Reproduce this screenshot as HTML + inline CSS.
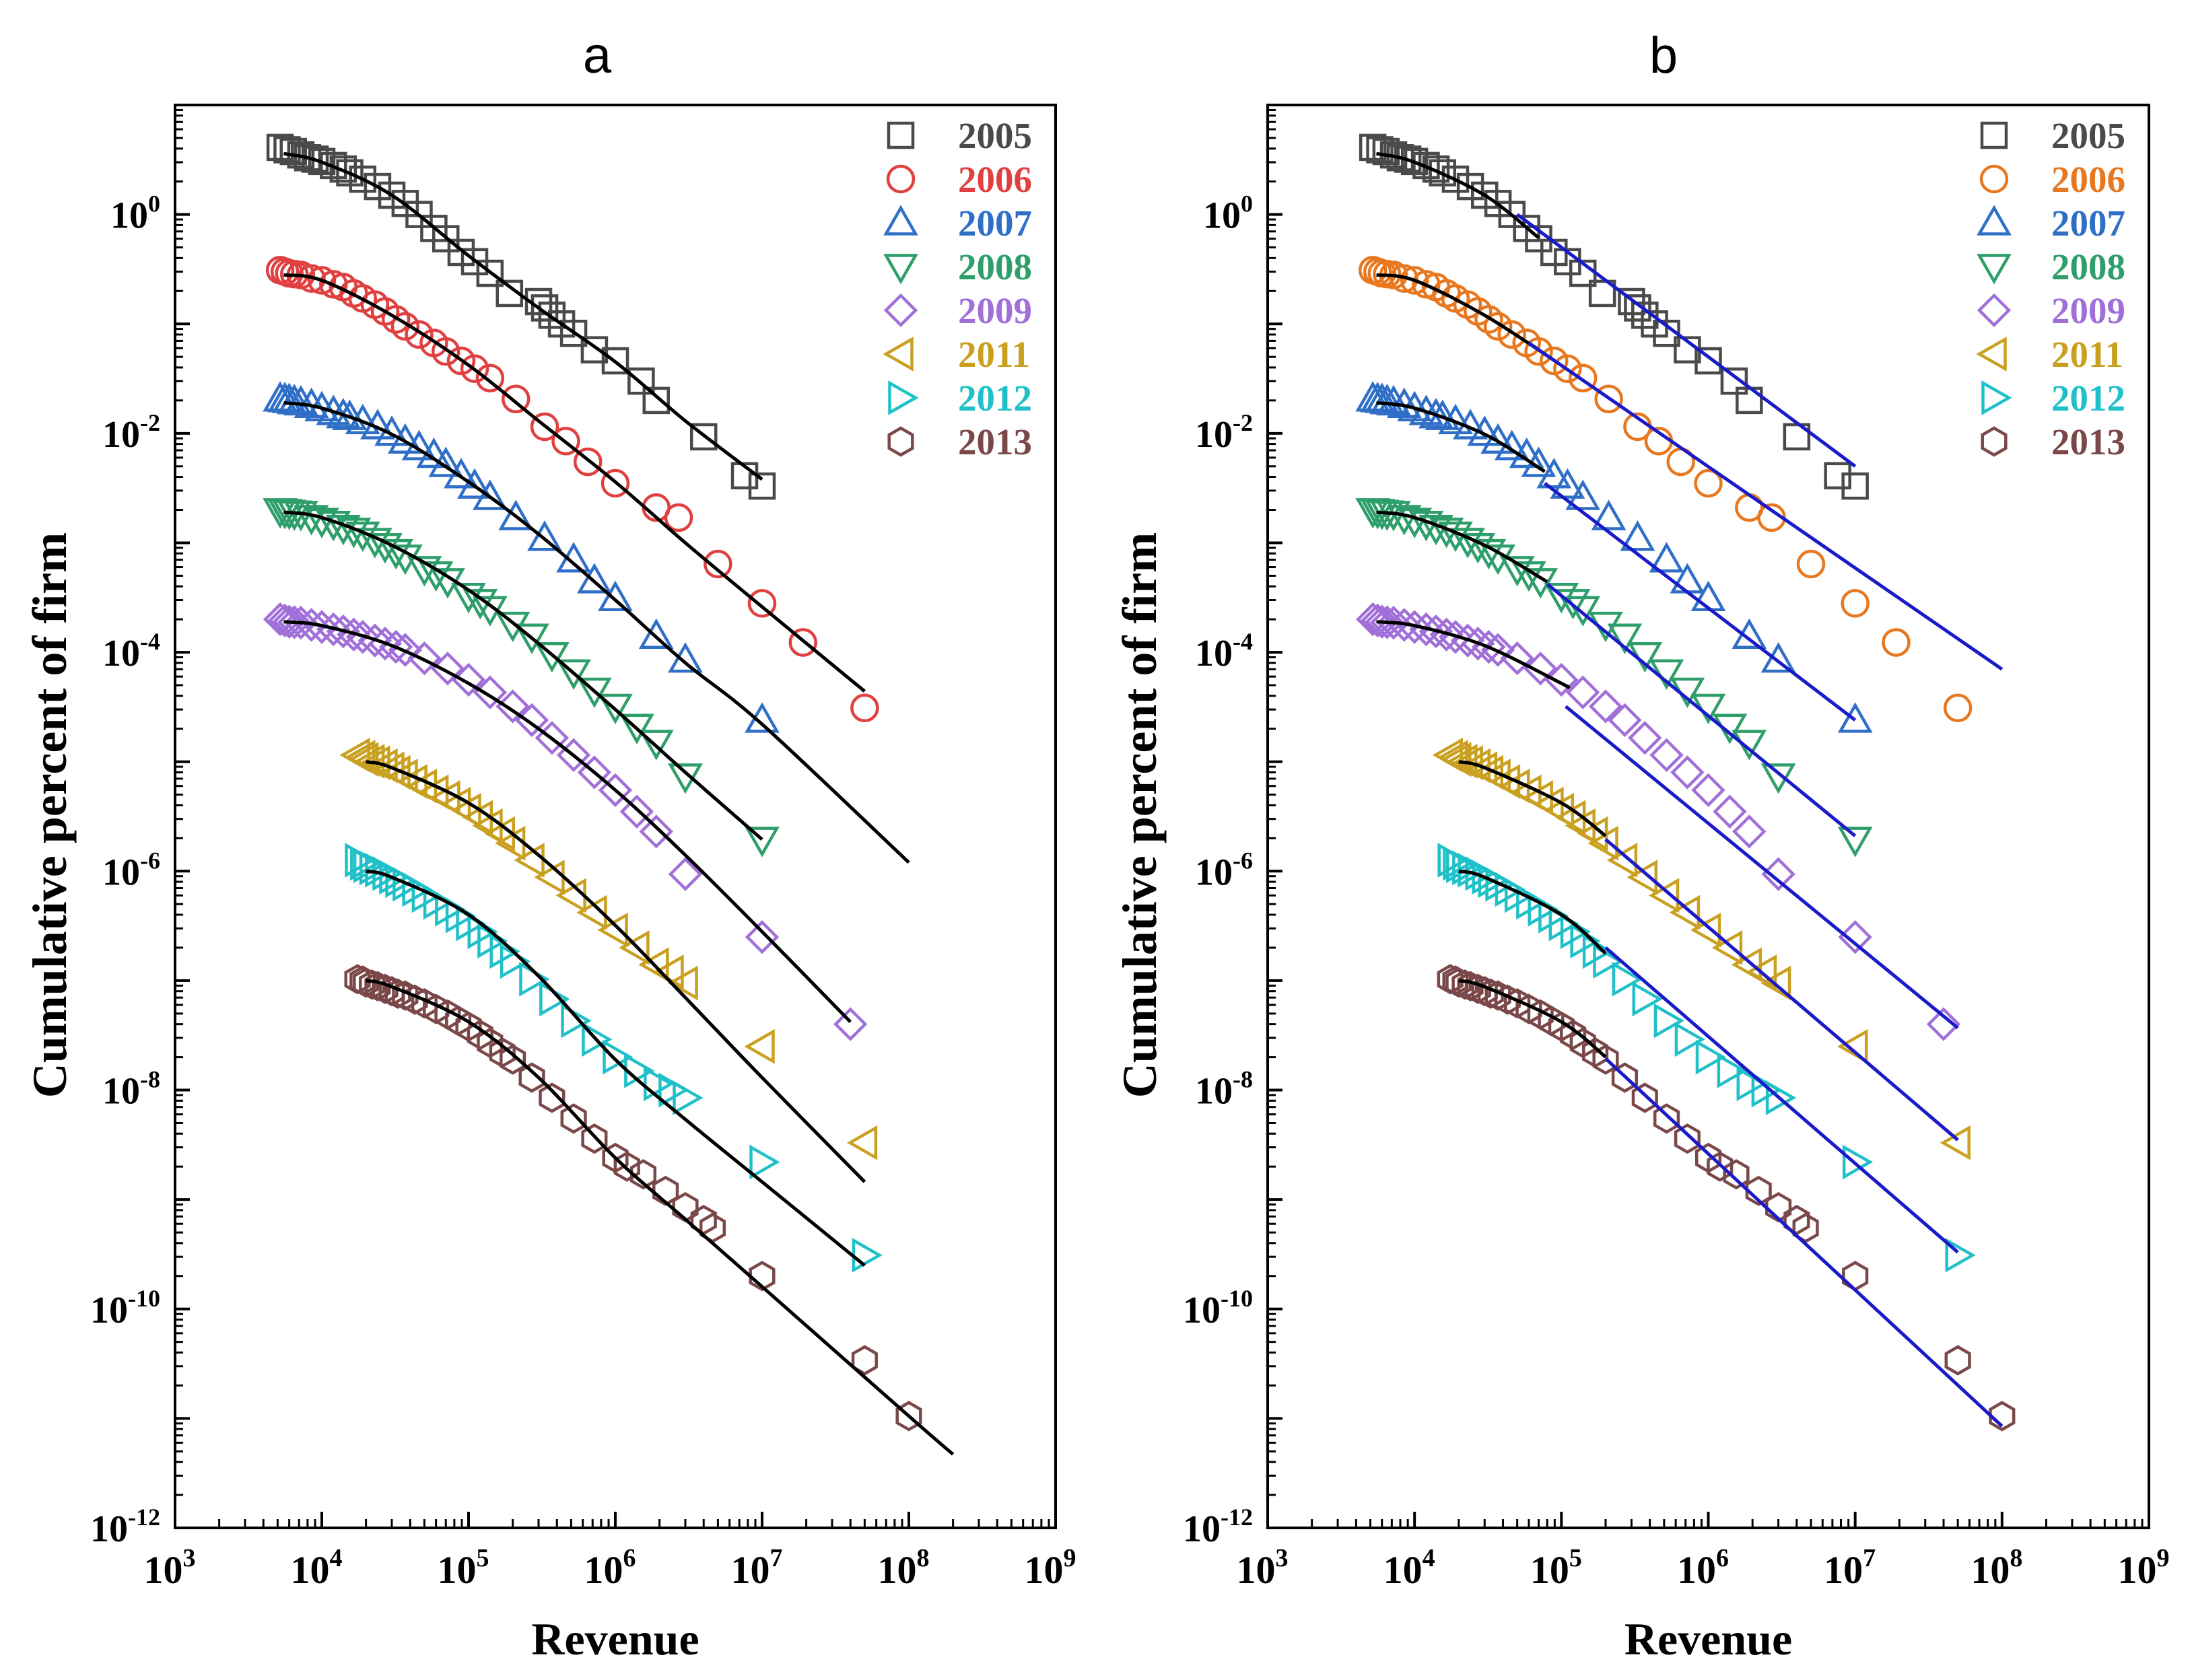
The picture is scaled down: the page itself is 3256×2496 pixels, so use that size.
<!DOCTYPE html>
<html><head><meta charset="utf-8">
<style>
html,body{margin:0;padding:0;background:#fff;}
svg{display:block;}
text{font-family:"Liberation Serif",serif;font-weight:bold;}
</style></head>
<body>
<svg id="chart" width="3256" height="2496" viewBox="0 0 3256 2496" xmlns="http://www.w3.org/2000/svg">
<rect width="3256" height="2496" fill="#fff"/>
</svg>
<script>
const years = ["2005","2006","2007","2008","2009","2011","2012","2013"];
const shapes = ["square","circle","up","down","diamond","left","right","hex"];
const colorsA = ["#4a4a4a","#e0403f","#2f6fc8","#2e9e6a","#a070d8","#c9a020","#20c0c8","#7a4848"];
const colorsB = ["#4a4a4a","#e87820","#2f6fc8","#2e9e6a","#a070d8","#c9a020","#20c0c8","#7a4848"];

const x2005 = [5.2e3,5.8e3,6.4e3,7.2e3,8e3,9e3,1e4,1.2e4,1.4e4,1.55e4,1.9e4,2.4e4,3e4,3.7e4,4.6e4,5.8e4,7e4,8.9e4,1.1e5,1.4e5,1.9e5,3e5,3.3e5,3.7e5,4.3e5,5.2e5,7.2e5,1e6,1.5e6,1.9e6,4e6,7.6e6,1e7];
const y2005 = [4.1,3.9,3.76,3.5,3.3,3.2,3.05,2.8,2.6,2.4,2.1,1.8,1.5,1.26,1.0,0.745,0.6,0.45,0.37,0.29,0.19,0.16,0.14,0.12,0.1,0.082,0.058,0.046,0.030,0.020,0.0093,0.0041,0.0033];
const x2006 = [5.2e3,5.6e3,6e3,6.5e3,7.2e3,8.5e3,1e4,1.2e4,1.4e4,1.65e4,1.9e4,2.3e4,2.7e4,3.2e4,3.7e4,4.6e4,5.8e4,7e4,8.9e4,1.1e5,1.4e5,2.1e5,3.3e5,4.6e5,6.5e5,1e6,1.9e6,2.7e6,5e6,1e7,1.9e7,5e7];
const y2006 = [0.31,0.30,0.29,0.285,0.28,0.26,0.25,0.23,0.217,0.19,0.171,0.15,0.13,0.11,0.095,0.08,0.067,0.056,0.046,0.039,0.032,0.0206,0.0115,0.0085,0.0055,0.0035,0.0021,0.0017,6.4e-4,2.8e-4,1.23e-4,3.1e-5];
const x2007 = [5.2e3,5.6e3,6e3,6.5e3,7.2e3,8.5e3,1e4,1.2e4,1.4e4,1.55e4,1.9e4,2.4e4,3e4,3.7e4,4.6e4,5.8e4,7e4,8.9e4,1.1e5,1.4e5,2.1e5,3.3e5,5.2e5,7.2e5,1e6,1.9e6,3e6,1e7];
const y2007 = [0.0206,0.0203,0.02,0.0195,0.019,0.018,0.0168,0.0155,0.0145,0.014,0.0128,0.0115,0.01,0.0085,0.0074,0.0063,0.0052,0.0041,0.0033,0.0026,0.0017,0.0011,7e-4,4.5e-4,3.1e-4,1.4e-4,8.5e-5,2.4e-5];
const x2008 = [5.2e3,5.6e3,6e3,6.5e3,7.2e3,8.5e3,1e4,1.2e4,1.4e4,1.65e4,1.9e4,2.3e4,2.7e4,3.2e4,3.7e4,5e4,6e4,7.2e4,1e5,1.2e5,1.4e5,2e5,2.7e5,3.7e5,5.2e5,7.2e5,1e6,1.4e6,1.9e6,3e6,1e7];
const y2008 = [1.96e-3,1.93e-3,1.9e-3,1.87e-3,1.85e-3,1.7e-3,1.6e-3,1.5e-3,1.38e-3,1.3e-3,1.2e-3,1.05e-3,9.4e-4,8.3e-4,7.4e-4,5.8e-4,5.2e-4,4.5e-4,3.3e-4,2.9e-4,2.5e-4,1.8e-4,1.4e-4,9.5e-5,6.6e-5,4.5e-5,3.2e-5,2.1e-5,1.5e-5,7.4e-6,1.95e-6];
const x2009 = [5.2e3,5.6e3,6e3,6.5e3,7.2e3,8.5e3,1e4,1.2e4,1.4e4,1.65e4,1.9e4,2.3e4,2.7e4,3.2e4,3.7e4,5e4,7.2e4,1e5,1.4e5,2e5,2.7e5,3.7e5,5.2e5,7.2e5,1e6,1.4e6,1.9e6,3e6,1e7,4e7];
const y2009 = [2e-4,1.95e-4,1.9e-4,1.88e-4,1.86e-4,1.78e-4,1.7e-4,1.62e-4,1.55e-4,1.45e-4,1.38e-4,1.28e-4,1.2e-4,1.12e-4,1.05e-4,8.8e-5,7.1e-5,5.6e-5,4.3e-5,3.2e-5,2.4e-5,1.65e-5,1.15e-5,8e-6,5.5e-6,3.5e-6,2.3e-6,9.4e-7,2.5e-7,4e-8];
const x2011 = [1.75e4,1.9e4,2e4,2.2e4,2.4e4,2.7e4,3e4,3.3e4,3.7e4,4.3e4,5e4,6e4,7.2e4,8.5e4,1e5,1.2e5,1.4e5,1.7e5,2e5,2.7e5,3.7e5,5.2e5,7.2e5,1e6,1.4e6,1.9e6,2.4e6,3e6,1e7,5e7];
const y2011 = [1.15e-5,1.1e-5,1.05e-5,1.01e-5,9.8e-6,9.2e-6,8.6e-6,8e-6,7.4e-6,6.6e-6,6e-6,5.3e-6,4.7e-6,4.1e-6,3.6e-6,3.1e-6,2.6e-6,2.2e-6,1.8e-6,1.26e-6,8.8e-7,6e-7,4.2e-7,2.9e-7,2e-7,1.4e-7,1.2e-7,9.5e-8,2.5e-8,3.3e-9];
const x2012 = [1.75e4,1.9e4,2e4,2.2e4,2.4e4,2.7e4,3e4,3.3e4,3.7e4,4.3e4,5e4,6e4,7.2e4,8.5e4,1e5,1.2e5,1.4e5,1.7e5,2e5,2.7e5,3.7e5,5.2e5,7.2e5,1e6,1.4e6,1.9e6,2.4e6,3e6,1e7,5e7];
const y2012 = [1.26e-6,1.18e-6,1.12e-6,1.07e-6,1.02e-6,9.5e-7,8.8e-7,8.2e-7,7.6e-7,6.8e-7,6e-7,5.2e-7,4.5e-7,3.9e-7,3.3e-7,2.8e-7,2.3e-7,1.85e-7,1.5e-7,1.03e-7,6.8e-8,4.3e-8,2.9e-8,2e-8,1.5e-8,1.14e-8,1e-8,8.5e-9,2.2e-9,3.1e-10];
const x2013 = [1.75e4,1.9e4,2e4,2.2e4,2.4e4,2.7e4,3e4,3.3e4,3.7e4,4.3e4,5e4,6e4,7.2e4,8.5e4,1e5,1.2e5,1.4e5,1.7e5,2e5,2.7e5,3.7e5,5.2e5,7.2e5,1e6,1.2e6,1.55e6,2.2e6,3e6,4e6,4.6e6,1e7,5e7,1e8];
const y2013 = [1.03e-7,1e-7,9.6e-8,9.2e-8,8.9e-8,8.4e-8,8e-8,7.6e-8,7.3e-8,6.7e-8,6.2e-8,5.5e-8,4.9e-8,4.3e-8,3.8e-8,3.2e-8,2.7e-8,2.2e-8,1.9e-8,1.3e-8,8.5e-9,5.5e-9,3.6e-9,2.4e-9,2e-9,1.7e-9,1.2e-9,8.5e-10,6.5e-10,5.5e-10,2e-10,3.4e-11,1.05e-11];

const fx2005=[5.5e3,1e4,3e4,1e5,3e5,1e6,3e6,1e7], fy2005=[3.6,3.0,1.5,0.42,0.14,0.045,0.013,3.8e-3];
const fx2006=[5.5e3,1e4,3e4,1e5,3e5,1e6,3e6,1e7,5e7], fy2006=[0.28,0.25,0.12,0.042,0.013,3.6e-3,1e-3,2.6e-4,4.4e-5];
const fx2007=[5.5e3,1e4,3e4,1e5,3e5,1e6,3e6,1e7,1e8], fy2007=[0.019,0.017,0.0098,0.0036,1.2e-3,3e-4,8e-5,2.2e-5,1.2e-6];
const fx2008=[5.5e3,1e4,3e4,1e5,3e5,1e6,3e6,1e7], fy2008=[1.9e-3,1.7e-3,9.5e-4,3.7e-4,1.2e-4,3e-5,8e-6,1.95e-6];
const fx2009=[5.5e3,1e4,3e4,1e5,3e5,1e6,3e6,1e7,4e7], fy2009=[1.9e-4,1.75e-4,1.15e-4,5.2e-5,2e-5,5.5e-6,1.4e-6,2.8e-7,4.2e-8];
const fx2011=[2e4,3e4,1e5,3e5,1e6,3e6,1e7,5e7], fy2011=[1e-5,8.8e-6,4.2e-6,1.4e-6,3.2e-7,7e-8,1.3e-8,1.45e-9];
const fx2012=[2e4,3e4,1e5,3e5,1e6,3e6,1e7,5e7], fy2012=[1e-6,8.8e-7,4e-7,1.1e-7,1.9e-8,5.4e-9,1.45e-9,2.5e-10];
const fx2013=[2e4,3e4,1e5,3e5,1e6,3e6,1e7,1e8,2e8], fy2013=[1e-7,8.8e-8,4.2e-8,1.3e-8,2.4e-9,6.6e-10,1.6e-10,1.05e-11,4.7e-12];

const headEnd = [7e4,9e4,7.7e4,8e4,1.07e5,2e5,2e5,2e5];
const blueX0 = [5e4,6e4,7.7e4,8e4,1.07e5,2e5,2e5,2e5];
const blueY0 = [1.0,0.067,3.5e-3,4.2e-4,3.2e-5,1.95e-6,2e-7,1.94e-8];
const blueX1 = [1e7,1e8,1e7,1e7,5e7,5e7,5e7,1e8];
const blueY1 = [5e-3,7e-5,2.4e-5,2.1e-6,3.7e-8,3.5e-9,3.3e-10,8.5e-12];

const xTicks = [3,4,5,6,7,8,9];
const yTicks = [0,-2,-4,-6,-8,-10,-12];

const DX=[x2005,x2006,x2007,x2008,x2009,x2011,x2012,x2013];
const DY=[y2005,y2006,y2007,y2008,y2009,y2011,y2012,y2013];
const FX=[fx2005,fx2006,fx2007,fx2008,fx2009,fx2011,fx2012,fx2013];
const FY=[fy2005,fy2006,fy2007,fy2008,fy2009,fy2011,fy2012,fy2013];

const NS="http://www.w3.org/2000/svg";
const svg=document.getElementById('chart');
function mk(tag,attrs,parent){const e=document.createElementNS(NS,tag);for(const k in attrs)e.setAttribute(k,attrs[k]);(parent||svg).appendChild(e);return e;}

function smoothPath(pts){
  if(pts.length<2) return '';
  let d='M'+pts[0][0].toFixed(1)+','+pts[0][1].toFixed(1);
  for(let i=0;i<pts.length-1;i++){
    const p0=pts[i-1]||pts[i],p1=pts[i],p2=pts[i+1],p3=pts[i+2]||p2;
    const c1=[p1[0]+(p2[0]-p0[0])/6,p1[1]+(p2[1]-p0[1])/6];
    const c2=[p2[0]-(p3[0]-p1[0])/6,p2[1]-(p3[1]-p1[1])/6];
    d+=' C'+c1[0].toFixed(1)+','+c1[1].toFixed(1)+' '+c2[0].toFixed(1)+','+c2[1].toFixed(1)+' '+p2[0].toFixed(1)+','+p2[1].toFixed(1);
  }
  return d;
}

function marker(g,shape,cx,cy,col){
  const r=22, sw=4.5;
  let e;
  if(shape==='square') e=mk('rect',{x:cx-18,y:cy-18,width:36,height:36},g);
  else if(shape==='circle') e=mk('circle',{cx:cx,cy:cy,r:19},g);
  else {
    let p;
    if(shape==='up') p=[[0,-r],[r,r*0.75],[-r,r*0.75]];
    else if(shape==='down') p=[[0,r],[r,-r*0.75],[-r,-r*0.75]];
    else if(shape==='left') p=[[-r,0],[r*0.75,-r],[r*0.75,r]];
    else if(shape==='right') p=[[r,0],[-r*0.75,-r],[-r*0.75,r]];
    else if(shape==='diamond') p=[[0,-r],[r,0],[0,r],[-r,0]];
    else { p=[];for(let k=0;k<6;k++){const a=Math.PI/6+k*Math.PI/3;p.push([20*Math.cos(a),20*Math.sin(a)]);} }
    e=mk('polygon',{points:p.map(q=>(cx+q[0]).toFixed(1)+','+(cy+q[1]).toFixed(1)).join(' ')},g);
  }
  e.setAttribute('fill','none');e.setAttribute('stroke',col);e.setAttribute('stroke-width',sw);
  return e;
}

function panel(id,left,right,top,bottom,colors,title,titleX,ytitleX,isB){
  const decW=(right-left)/6, decH=(bottom-top)/13;
  const X=v=>left+(Math.log10(v)-3)*decW;
  const Y=v=>top+(1-Math.log10(v))*decH;
  const g=mk('g',{});
  
  
  const t=mk('text',{x:titleX,y:108,'font-size':76,'text-anchor':'middle',style:'font-family:"Liberation Sans",sans-serif;font-weight:normal'},g);
  t.textContent=title;
  
  
  for(let s=0;s<8;s++){
    const sg=mk('g',{},g);
    
    
    for(let i=0;i<DX[s].length;i++){
      const m=marker(sg,shapes[s],X(DX[s][i]),Y(DY[s][i]),colors[s]);
      
      
    }
  }
  for(let s=0;s<8;s++){
    let pts=FX[s].map((v,i)=>[X(v),Y(FY[s][i])]);
    if(isB){
      const he=X(headEnd[s]);
      const out=[];
      for(let i=0;i<pts.length;i++){
        if(pts[i][0]<=he) out.push(pts[i]);
        else { const a=pts[i-1],b=pts[i];const f=(he-a[0])/(b[0]-a[0]);out.push([he,a[1]+f*(b[1]-a[1])]);break; }
      }
      pts=out;
    }
    const p=mk('path',{d:smoothPath(pts),fill:'none',stroke:'#000','stroke-width':5},g);
    
    
    if(isB){
      const l=mk('line',{x1:X(blueX0[s]),y1:Y(blueY0[s]),x2:X(blueX1[s]),y2:Y(blueY1[s]),stroke:'#1a1ac8','stroke-width':5},g);
      
      
    }
  }
  const fr=mk('rect',{x:left,y:top,width:right-left,height:bottom-top,fill:'none',stroke:'#000','stroke-width':4},g);
  
  
  for(let d=3;d<=9;d++){
    const x=left+(d-3)*decW;
    mk('line',{x1:x,y1:bottom,x2:x,y2:bottom-24,stroke:'#000','stroke-width':4},g);
    if(d<9) for(let k=2;k<=9;k++){const xm=x+Math.log10(k)*decW;mk('line',{x1:xm,y1:bottom,x2:xm,y2:bottom-13,stroke:'#000','stroke-width':3},g);}
  }
  xTicks.forEach(d=>{
    const x=left+(d-3)*decW;
    const tx=mk('text',{x:x-8,y:2352,'font-size':58,'text-anchor':'middle'},g);
    tx.textContent='10';
    
    
    const sp=mk('tspan',{dy:-25,'font-size':38},tx);sp.textContent=String(d);
  });
  for(let e=1;e>=-12;e--){
    const y=top+(1-e)*decH;
    mk('line',{x1:left,y1:y,x2:left+22,y2:y,stroke:'#000','stroke-width':4},g);
    if(e>-12) for(let k=2;k<=9;k++){const ym=y+decH-Math.log10(k)*decH;mk('line',{x1:left,y1:ym,x2:left+12,y2:ym,stroke:'#000','stroke-width':3},g);}
  }
  yTicks.forEach(e=>{
    const y=top+(1-e)*decH;
    const tx=mk('text',{x:left-22,y:y+20,'font-size':56,'text-anchor':'end'},g);
    tx.textContent='10';
    
    
    const sp=mk('tspan',{dy:-24,'font-size':36},tx);sp.textContent=String(e);
  });
  const xt=mk('text',{x:(left+right)/2,y:2458,'font-size':68,'text-anchor':'middle'},g);
  xt.textContent='Revenue';
  
  
  const yt=mk('text',{x:0,y:0,'font-size':72,'text-anchor':'middle',transform:'translate('+(ytitleX+25)+',1211) rotate(-90)'},g);
  yt.textContent='Cumulative percent of firm';
  
  
  const lg=mk('g',{},g);
  
  
  const mx=right-230, tx0=right-145;
  for(let s=0;s<8;s++){
    const y=201+s*65;
    const en=mk('g',{},lg);
    
    
    marker(en,shapes[s],mx,y,colors[s]);
    const lt=mk('text',{x:tx0,y:y+19,'font-size':55,fill:colors[s]},en);
    lt.textContent=years[s];
  }
}
panel('a',260,1568,156,2270,colorsA,'a',887,73,false);
panel('b',1883,3192,156,2270,colorsB,'b',2471,1692,true);
</script>
</body></html>
